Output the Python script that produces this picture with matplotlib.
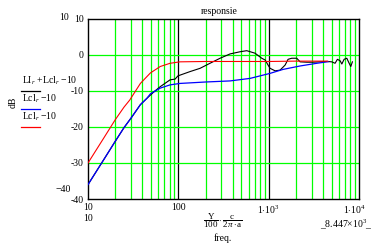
import numpy as np
import matplotlib
matplotlib.use("Agg")
import matplotlib.pyplot as plt
import matplotlib.transforms as mtransforms

plt.rcParams["font.family"] = ["Liberation Serif", "DejaVu Serif"]
plt.rcParams["mathtext.fontset"] = "custom"
plt.rcParams["mathtext.rm"] = "Liberation Serif"
plt.rcParams["mathtext.it"] = "Liberation Serif:italic"

# === data ===
freq_red = [10, 15, 20, 25, 29, 38, 49, 63, 81, 104, 200, 500, 1000, 2000, 4500]
db_red = [-30, -23, -18, -14.5, -12.5, -7.9, -5, -3.2, -2.3, -1.9, -1.8, -1.8, -1.8, -1.7, -1.7]

freq_blue = [10, 15, 20, 25, 30, 38, 45, 49, 63, 81, 104, 200, 374, 622, 1037,
             1443, 2228, 3412, 4548]
db_blue = [-36, -29, -24, -20.2, -17.5, -13.8, -12, -10.8, -9.2, -8.3, -7.9, -7.5,
           -7.2, -6.5, -5.1, -4.0, -3.05, -2.3, -1.86]

freq_black = [10, 15, 20, 25, 30, 38, 45, 55, 63, 81, 92, 99, 135, 174, 224, 290,
              374, 482, 572, 706, 838, 915, 985, 1037, 1178, 1337, 1520, 1640, 1800,
              2045, 2228, 2650, 3095, 4400, 5000, 5433, 5767, 6180, 6456, 6843, 7330,
              7710, 8110, 8447]
db_black = [-36, -29, -24, -20.2, -17.5, -13.8, -12, -10, -8.8, -6.9, -6.7, -5.8,
            -4.6, -3.7, -2.3, -0.9, 0.3, 0.9, 1.2, 0.5, -0.9, -1.4, -2.8, -3.7, -4.4,
            -4.2, -2.8, -1.2, -0.9, -0.9, -1.9, -2.0, -2.0, -1.8, -1.9, -2.3, -1.2,
            -1.6, -2.5, -1.2, -0.9, -2.1, -3.2, -1.9]

legend_labels = [r"LI$_r$ +Lcl$_r$ $-$10", r"Lcl$_r$ $-$10", r"Lcl$_r$ $-$10"]
legend_colors = ["black", "#0000ff", "#ff0000"]

xticks = [10, 100, 1000, 10000]
xtick_labels = ["10", "100", r"1$\cdot$10$^3$", r"1$\cdot$10$^4$"]
yticks = [10, 0, -10, -20, -30, -40]

# === figure ===
fig = plt.figure(figsize=(3.74, 2.45), dpi=100)
ax = fig.add_axes([88 / 374, 1 - 199 / 245, 271 / 374, 180 / 245])

# grid
green = "#00ff00"
for dec in [10, 100, 1000]:
    for m in range(2, 10):
        ax.axvline(dec * m, color=green, lw=0.9, zorder=1)
for v in [100, 1000]:
    ax.axvline(v, color="black", lw=0.9, zorder=1)
for h in [0, -10, -20, -30]:
    ax.axhline(h, color=green, lw=0.9, zorder=1)

ax.plot(freq_black, db_black, color="black", lw=0.8, zorder=3)
ax.plot(freq_blue, db_blue, color="#0000ff", lw=0.9, zorder=4)
ax.plot(freq_red, db_red, color="#ff0000", lw=0.8, zorder=5)

ax.set_xscale("log")
ax.set_xlim(10, 10000)
ax.set_ylim(-40, 10)
ax.minorticks_off()
ax.set_xticks(xticks)
ax.set_xticklabels(xtick_labels)
ax.set_yticks(yticks)
ax.set_yticklabels([str(v) for v in yticks])
ax.tick_params(length=0, labelsize=7)
ax.tick_params(axis="x", pad=3)
ax.tick_params(axis="y", pad=3)
# last x label sits a little left of the frame corner
last = ax.get_xticklabels()[-1]
last.set_transform(last.get_transform() +
                   mtransforms.ScaledTranslation(-5 / 100, 0, fig.dpi_scale_trans))
for s in ax.spines.values():
    s.set_linewidth(1.0)

# title and limit labels, Mathcad style
fig.text(219 / 374, 1 - 12 / 245, "responsie", ha="center", va="center", fontsize=7)
fig.text(64 / 374, 1 - 17 / 245, "10", ha="center", va="center", fontsize=7)
fig.text(63 / 374, 1 - 190 / 245, "\u221240", ha="center", va="center", fontsize=7)
fig.text(88 / 374, 1 - 218 / 245, "10", ha="center", va="center", fontsize=7)
fig.text(346 / 374, 1 - 224 / 245, r"$\_$8.447$\times$10$^3$$\_$", ha="center",
         va="center", fontsize=7)

# x label
fig.text(223 / 374, 1 - 221 / 245,
         r"$\dfrac{\mathrm{Y}}{100}\cdot\dfrac{\mathrm{c}}{2\pi\cdot\mathrm{a}}$",
         ha="center", va="center", fontsize=6.5)
fig.text(223 / 374, 1 - 238 / 245, "freq.", ha="center", va="center", fontsize=7)

# y label and legend on the left
fig.text(13 / 374, 1 - 102 / 245, "dB", rotation=90, ha="center", va="center", fontsize=7)
text_y = [81, 99, 117]
line_y = [91, 109, 127]
for lab, col, ty, ly in zip(legend_labels, legend_colors, text_y, line_y):
    fig.text(22 / 374, 1 - ty / 245, lab, ha="left", va="center", fontsize=7)
    fig.add_artist(plt.Line2D([21 / 374, 40 / 374], [1 - ly / 245, 1 - ly / 245],
                              color=col, lw=0.9, transform=fig.transFigure))

fig.savefig("out.png", dpi=100)
